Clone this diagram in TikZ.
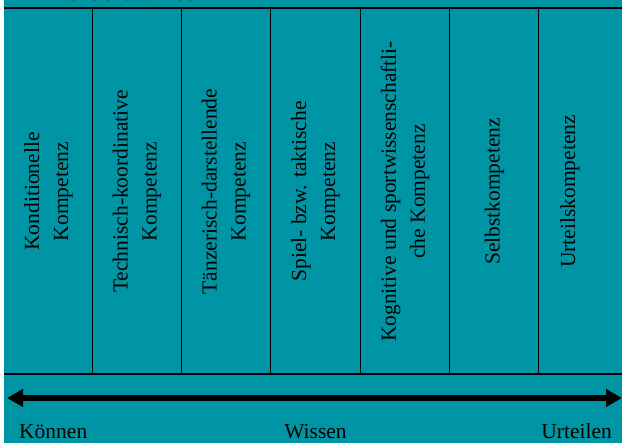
\documentclass[tikz,border=0pt]{standalone}
\usepackage{fontspec}
\setmainfont{Liberation Serif}
\usetikzlibrary{arrows.meta}
\definecolor{tealbg}{RGB}{0,149,164}
\tikzset{
    x=1pt,
    y=-1pt,
    grid/.style = {
        draw,
        line width=1.8pt
    },
    kompetenz/.style = {
        rotate=90,
        align=center,
        inner sep=0pt,
        font=\fontsize{21.5}{29}\selectfont
    },
    pole/.style = {
        inner sep=0pt,
        font=\fontsize{21.5}{26}\selectfont
    },
    axis/.style = {
        draw,
        line width=5.5pt,
        {Triangle[length=16pt,width=17pt]}-{Triangle[length=16pt,width=17pt]}
    },
}

\begin{document}
\begin{tikzpicture}
            \useasboundingbox (0,0) rectangle (622,443);
            \fill[tealbg] (4,0) rectangle (622,443);
            \begin{scope}
                \clip (4,0) rectangle (622,443);
                \node[anchor=base west, inner sep=0pt, font=\fontsize{27}{30}\selectfont] (kopf) at (57,1) {fördert wird.};
            \end{scope}

            % table frame
            \coordinate (ol) at (4,8);
            \coordinate (or) at (622,8);
            \coordinate (ul) at (4,374);
            \coordinate (ur) at (622,374);
            \path[grid] (ol) -- (or);
            \path[grid] (ul) -- (ur);
            \foreach \x in {92.5,181.5,270.5,360.5,449.5,538.5}
                \path[grid] (\x,8) -- (\x,374);

            \node[kompetenz] (kond) at (48.5,191.5) {Konditionelle\\Kompetenz};
            \node[kompetenz] (tech) at (137,191.5) {Technisch-koordinative\\Kompetenz};
            \node[kompetenz] (tanz) at (226,191.5) {Tänzerisch-darstellende\\Kompetenz};
            \node[kompetenz] (spiel) at (315.5,191.5) {Spiel- bzw. taktische\\Kompetenz};
            \node[kompetenz] (kogn) at (405,191.5) {Kognitive und sportwissenschaftli-\\che Kompetenz};
            \node[kompetenz] (selbst) at (494.5,191.5) {Selbstkompetenz};
            \node[kompetenz] (urteil) at (570,191.5) {Urteilskompetenz};

            % axis
            \coordinate (pl) at (7,398);
            \coordinate (pr) at (622,398);
            \path[axis] (pl) -- (pr);
            \node[pole, anchor=base west] (koennen) at (19,439) {Können};
            \node[pole, anchor=base] (wissen) at (315.5,439) {Wissen};
            \node[pole, anchor=base east] (urteilen) at (612,439) {Urteilen};
        \end{tikzpicture}
\end{document}
